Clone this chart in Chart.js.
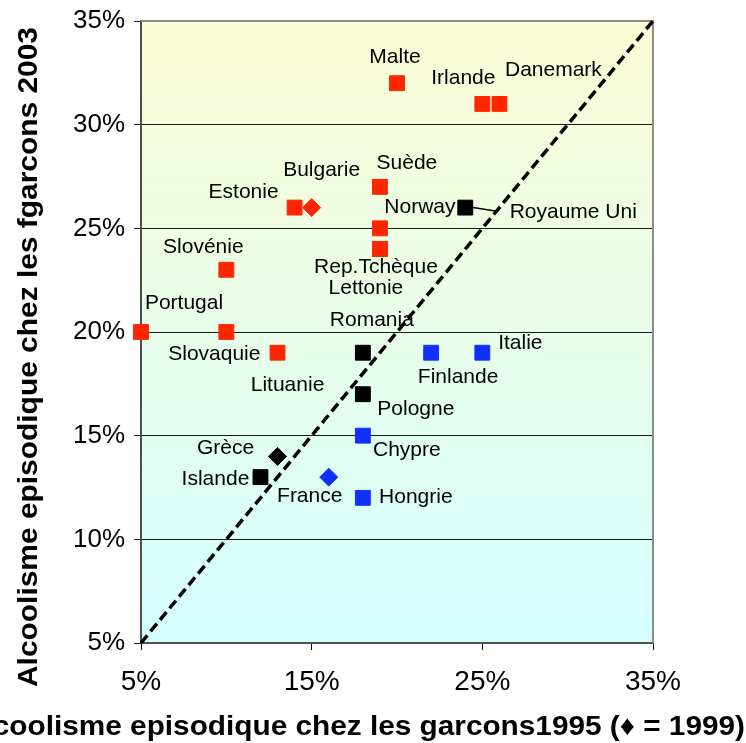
<!DOCTYPE html>
<html>
<head>
<meta charset="utf-8">
<script src="https://cdn.jsdelivr.net/npm/chart.js@4"></script>
<style>
  html, body { margin: 0; padding: 0; background: #ffffff; overflow: hidden; }
  canvas { display: block; }
</style>
</head>
<body>
<canvas id="chart" width="746" height="743"></canvas>
<script>
// Binge drinking among boys: 1995 survey (x) vs 2003 survey (y), in %
const countries = [
  'Malte', 'Irlande', 'Danemark', 'Suède', 'Estonie', 'Bulgarie', 'Norway',
  'Royaume Uni', 'Rep.Tchèque', 'Lettonie', 'Slovénie', 'Portugal', 'Slovaquie',
  'Lituanie', 'Romania', 'Finlande', 'Italie', 'Pologne', 'Chypre', 'Grèce',
  'Islande', 'France', 'Hongrie'
];
const boys1995 = [20, 25, 26, 19, 14, 15, 19, 24, 19, 19, 10, 5, 10, 13, 18, 22, 25, 18, 18, 13, 12, 16, 18];
const boys2003 = [32, 31, 31, 27, 26, 26, 25, 26, 24, 24, 23, 20, 20, 19, 19, 19, 19, 17, 15, 14, 13, 13, 12];
// direction of change between the two surveys
const trend = [
  'hausse', 'hausse', 'hausse', 'hausse', 'hausse', 'hausse', 'hausse',
  'stable', 'hausse', 'hausse', 'hausse', 'hausse', 'hausse',
  'hausse', 'stable', 'baisse', 'baisse', 'stable', 'baisse', 'stable',
  'stable', 'baisse', 'baisse'
];
// year of the first survey (diamond marker = 1999)
const surveyYear = [1995, 1995, 1995, 1995, 1995, 1999, 1995, 1995, 1995, 1995, 1995, 1995, 1995,
                    1995, 1995, 1995, 1995, 1995, 1995, 1999, 1995, 1999, 1995];
const xTicks = [5, 15, 25, 35];
const yTicks = [5, 10, 15, 20, 25, 30, 35];
const diagonal = [5, 35];

const xTitle = 'Alcoolisme episodique chez les garcons1995 (\u2666 = 1999)';
const yTitle = 'Alcoolisme episodique chez les fgarcons 2003';

const trendColors = { hausse: '#FF2600', stable: '#000000', baisse: '#1030FF' };

// label centre relative to its marker, in px
const labelOffsets = {
  'Malte': [-2, -26], 'Irlande': [-19, -26], 'Danemark': [54, -34], 'Suède': [27, -24],
  'Estonie': [-51, -15], 'Bulgarie': [10, -37], 'Norway': [40, -21], 'Royaume Uni': [108, 5],
  'Rep.Tchèque': [-4, 18], 'Lettonie': [-14, 39], 'Slovénie': [-23, -23], 'Portugal': [43, -29],
  'Slovaquie': [-12, 22], 'Lituanie': [10, 32], 'Romania': [9, -33], 'Finlande': [27, 24],
  'Italie': [38, -10], 'Pologne': [53, 15], 'Chypre': [44, 15], 'Grèce': [-52, -8],
  'Islande': [-45, 2], 'France': [-19, 19], 'Hongrie': [53, -1]
};
// labels joined to their marker by a short leader line
const leaderLines = { 'Royaume Uni': [[8, 0], [33, 4]] };

const FONT = '"Liberation Sans", Arial, Helvetica, sans-serif';

const backgroundPlugin = {
  id: 'plotBackground',
  beforeDraw(chart) {
    const { ctx, chartArea: a } = chart;
    const g = ctx.createLinearGradient(0, a.top, 0, a.bottom);
    g.addColorStop(0, '#FCFCD5');
    g.addColorStop(1, '#D4FFFF');
    ctx.save();
    ctx.fillStyle = g;
    ctx.fillRect(a.left, a.top, a.right - a.left, a.bottom - a.top);
    ctx.restore();
  }
};

const framePlugin = {
  id: 'plotFrame',
  beforeDatasetsDraw(chart) {
    const { ctx, chartArea: a } = chart;
    ctx.save();
    ctx.strokeStyle = '#8C8C8C';
    ctx.lineWidth = 2;
    ctx.beginPath();
    ctx.moveTo(a.left, a.top);
    ctx.lineTo(a.right, a.top);
    ctx.lineTo(a.right, a.bottom);
    ctx.stroke();
    ctx.restore();
  }
};

const labelPlugin = {
  id: 'pointLabels',
  afterDatasetsDraw(chart) {
    const { ctx } = chart;
    const meta = chart.getDatasetMeta(1);
    ctx.save();
    ctx.fillStyle = '#000';
    ctx.strokeStyle = '#000';
    ctx.font = '21px ' + FONT;
    ctx.textAlign = 'center';
    ctx.textBaseline = 'middle';
    meta.data.forEach((pt, i) => {
      const name = countries[i];
      const off = labelOffsets[name] || [0, -20];
      ctx.fillText(name, pt.x + off[0], pt.y + off[1]);
      const lead = leaderLines[name];
      if (lead) {
        ctx.lineWidth = 1.5;
        ctx.beginPath();
        ctx.moveTo(pt.x + lead[0][0], pt.y + lead[0][1]);
        ctx.lineTo(pt.x + lead[1][0], pt.y + lead[1][1]);
        ctx.stroke();
      }
    });
    ctx.restore();
  }
};

// axis titles, fitted to their drawn length
const titlePlugin = {
  id: 'axisTitles',
  afterDraw(chart) {
    const { ctx } = chart;
    ctx.save();
    ctx.fillStyle = '#000';
    ctx.font = 'bold 28px ' + FONT;
    ctx.textAlign = 'center';
    ctx.textBaseline = 'alphabetic';

    ctx.save();
    ctx.translate(37, 357);
    ctx.rotate(-Math.PI / 2);
    const wy = ctx.measureText(yTitle).width;
    ctx.scale(660 / wy, 1);
    ctx.fillText(yTitle, 0, 0);
    ctx.restore();

    ctx.save();
    ctx.translate(354, 735);
    const wx = ctx.measureText(xTitle).width;
    ctx.scale(782 / wx, 1);
    ctx.fillText(xTitle, 0, 0);
    ctx.restore();

    ctx.restore();
  }
};

new Chart(document.getElementById('chart'), {
  type: 'scatter',
  data: {
    datasets: [
      {
        label: 'x = y',
        type: 'line',
        data: diagonal.map(v => ({ x: v, y: v })),
        showLine: true,
        borderColor: '#000',
        borderWidth: 3.5,
        borderDash: [10, 5],
        borderCapStyle: 'butt',
        pointRadius: 0,
        fill: false,
        clip: 4,
        order: 0
      },
      {
        label: 'Pays',
        data: countries.map((c, i) => ({ x: boys1995[i], y: boys2003[i] })),
        pointStyle: surveyYear.map(y => (y === 1999 ? 'rectRot' : 'rect')),
        pointRadius: surveyYear.map(y => (y === 1999 ? 9 : 10.5)),
        pointHoverRadius: surveyYear.map(y => (y === 1999 ? 9 : 10.5)),
        backgroundColor: trend.map(t => trendColors[t]),
        borderColor: trend.map(t => trendColors[t]),
        borderWidth: 1,
        clip: false,
        order: 1
      }
    ]
  },
  options: {
    responsive: false,
    animation: false,
    devicePixelRatio: 1,
    layout: { padding: { top: 21, right: 93, left: 0, bottom: 0 } },
    plugins: {
      legend: { display: false },
      tooltip: { enabled: false },
      title: { display: false }
    },
    scales: {
      x: {
        type: 'linear',
        min: 5,
        max: 35,
        afterBuildTicks(s) { s.ticks = xTicks.map(v => ({ value: v })); },
        afterFit(s) { s.height = 100; s.paddingLeft = 0; s.paddingRight = 0; },
        ticks: {
          autoSkip: false,
          maxRotation: 0,
          padding: 15,
          color: '#000',
          font: { family: FONT, size: 28 },
          callback: v => v + '%'
        },
        grid: { drawOnChartArea: false, drawTicks: true, tickLength: 7, color: '#000', lineWidth: 1 },
        border: { display: true, color: '#505050', width: 2 }
      },
      y: {
        type: 'linear',
        min: 5,
        max: 35,
        afterBuildTicks(s) { s.ticks = yTicks.map(v => ({ value: v })); },
        afterFit(s) { s.width = 141; s.paddingTop = 0; s.paddingBottom = 0; },
        ticks: {
          autoSkip: false,
          padding: 9,
          color: '#000',
          font: { family: FONT, size: 26 },
          callback: v => v + '%'
        },
        grid: { drawOnChartArea: true, drawTicks: true, tickLength: 7, color: '#1A1A1A', lineWidth: 1 },
        border: { display: true, color: '#505050', width: 2 }
      }
    }
  },
  plugins: [backgroundPlugin, framePlugin, labelPlugin, titlePlugin]
});
</script>
</body>
</html>
